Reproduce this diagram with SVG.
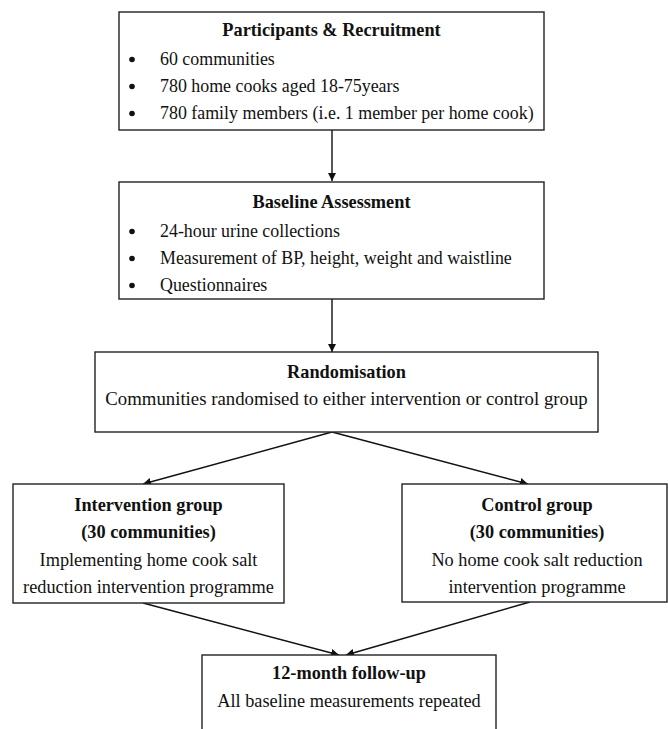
<svg xmlns="http://www.w3.org/2000/svg" width="668" height="729" viewBox="0 0 668 729">
<defs>
<marker id="arr" viewBox="0 0 10 10" refX="10" refY="5" markerWidth="8" markerHeight="8" markerUnits="userSpaceOnUse" orient="auto">
<path d="M0,0 L10,5 L0,10 z" fill="#111"/>
</marker>
<style>
.box{fill:#fff;stroke:#222;stroke-width:1.4}
.t{font-family:"Liberation Serif","Times New Roman",serif;font-size:18.3px;fill:#111}
.l{font-size:17.9px}
.b{font-weight:bold}
.c{text-anchor:middle}
.e{stroke:#111;stroke-width:1.4;fill:none;marker-end:url(#arr)}
.dot{fill:#111}
</style>
</defs>
<rect width="668" height="729" fill="#fff"/>
<g id="connectors">
<line class="e" x1="332" y1="130" x2="332" y2="181"/>
<line class="e" x1="332" y1="299" x2="332" y2="352"/>
<line class="e" x1="332" y1="432" x2="143" y2="484"/>
<line class="e" x1="332" y1="432" x2="528" y2="484"/>
<line class="e" x1="143" y1="603" x2="339" y2="655"/>
<line class="e" x1="530" y1="602" x2="346" y2="655"/>
</g>
<g id="recruitment">
<rect class="box" x="119" y="12" width="425" height="118"/>
<text class="t b c" x="331.5" y="36">Participants &amp; Recruitment</text>
<circle class="dot" cx="132" cy="59.5" r="2.8"/>
<text class="t l" x="160" y="65">60 communities</text>
<circle class="dot" cx="132" cy="86.5" r="2.8"/>
<text class="t l" x="160" y="92">780 home cooks aged 18-75years</text>
<circle class="dot" cx="132" cy="113.5" r="2.8"/>
<text class="t l" x="160" y="119">780 family members (i.e. 1 member per home cook)</text>
</g>
<g id="baseline">
<rect class="box" x="119" y="182" width="425" height="117"/>
<text class="t b c" x="331.5" y="208">Baseline Assessment</text>
<circle class="dot" cx="132" cy="231.5" r="2.8"/>
<text class="t l" x="160" y="237">24-hour urine collections</text>
<circle class="dot" cx="132" cy="258.5" r="2.8"/>
<text class="t l" x="160" y="264">Measurement of BP, height, weight and waistline</text>
<circle class="dot" cx="132" cy="285.5" r="2.8"/>
<text class="t l" x="160" y="291">Questionnaires</text>
</g>
<g id="randomisation">
<rect class="box" x="95" y="352" width="503" height="80"/>
<text class="t b c" x="346.5" y="378">Randomisation</text>
<text class="t c" x="346.5" y="405" style="font-size:18.8px">Communities randomised to either intervention or control group</text>
</g>
<g id="intervention">
<rect class="box" x="13" y="484" width="271" height="119"/>
<text class="t b c" x="148.5" y="511">Intervention group</text>
<text class="t b c" x="148.5" y="538">(30 communities)</text>
<text class="t c" x="148.5" y="566">Implementing home cook salt</text>
<text class="t c" x="148.5" y="593">reduction intervention programme</text>
</g>
<g id="control">
<rect class="box" x="402" y="484" width="265" height="118"/>
<text class="t b c" x="537" y="511">Control group</text>
<text class="t b c" x="537" y="538">(30 communities)</text>
<text class="t c" x="537" y="566">No home cook salt reduction</text>
<text class="t c" x="537" y="593">intervention programme</text>
</g>
<g id="followup">
<rect class="box" x="202" y="655" width="294" height="90"/>
<text class="t b c" x="349" y="679">12-month follow-up</text>
<text class="t c" x="349" y="707">All baseline measurements repeated</text>
</g>
</svg>
